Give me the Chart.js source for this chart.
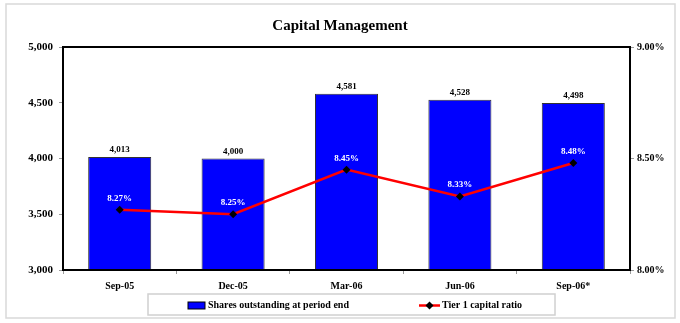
<!DOCTYPE html>
<html>
<head>
<meta charset="utf-8">
<script src="https://cdn.jsdelivr.net/npm/chart.js@4"></script>
<style>
  html, body { margin: 0; padding: 0; background: #fff; }
  #wrap { width: 680px; height: 323px; position: relative; }
</style>
</head>
<body>
<div id="wrap"><canvas id="myChart" width="680" height="323"></canvas></div>
<script>
// chart data
const categories = ["Sep-05", "Dec-05", "Mar-06", "Jun-06", "Sep-06*"];
const shares = [4013, 4000, 4581, 4528, 4498];
const tier1 = [8.27, 8.25, 8.45, 8.33, 8.48];
const leftTicks = [3000, 3500, 4000, 4500, 5000];
const rightTicks = [8.0, 8.5, 9.0];

const FONT = "'Liberation Serif', 'Times New Roman', serif";

// draws frame, title, value labels and the boxed legend
const extras = {
  id: "extras",
  beforeDraw(chart) {
    const c = chart.ctx;
    c.save();
    c.fillStyle = "#fff";
    c.fillRect(0, 0, chart.width, chart.height);
    c.strokeStyle = "#d9d9d9";
    c.lineWidth = 1.5;
    c.strokeRect(6, 4, 669, 314);
    c.restore();
  },
  afterDraw(chart) {
    const c = chart.ctx;
    const a = chart.chartArea;
    c.save();
    // plot frame
    c.strokeStyle = "#000";
    c.lineWidth = 2;
    c.strokeRect(a.left, a.top, a.right - a.left, a.bottom - a.top);

    // title
    c.fillStyle = "#000";
    c.font = "bold 15px " + FONT;
    c.textAlign = "center";
    c.textBaseline = "middle";
    c.fillText("Capital Management", 340, 26);

    // bar values
    c.font = "bold 9px " + FONT;
    c.textBaseline = "alphabetic";
    const bars = chart.getDatasetMeta(0).data;
    bars.forEach((b, i) => {
      c.fillText(shares[i].toLocaleString("en-US"), b.x, b.y - 5);
    });

    // ratio values
    c.fillStyle = "#fff";
    const pts = chart.getDatasetMeta(1).data;
    pts.forEach((p, i) => {
      c.fillText(tier1[i].toFixed(2) + "%", p.x, p.y - 9);
    });

    // legend box
    c.strokeStyle = "#d0d0d0";
    c.lineWidth = 1.5;
    c.strokeRect(148, 294, 407, 21);
    c.fillStyle = "#0000ff";
    c.fillRect(188, 302, 17, 7);
    c.strokeStyle = "#000";
    c.lineWidth = 1;
    c.strokeRect(188, 302, 17, 7);
    c.fillStyle = "#000";
    c.font = "bold 10px " + FONT;
    c.textAlign = "left";
    c.textBaseline = "middle";
    c.fillText("Shares outstanding at period end", 208, 305.5);
    c.strokeStyle = "#ff0000";
    c.lineWidth = 2.5;
    c.beginPath();
    c.moveTo(419, 305.5);
    c.lineTo(440, 305.5);
    c.stroke();
    c.fillStyle = "#000";
    c.beginPath();
    c.moveTo(429.5, 301.5);
    c.lineTo(433.5, 305.5);
    c.lineTo(429.5, 309.5);
    c.lineTo(425.5, 305.5);
    c.closePath();
    c.fill();
    c.fillText("Tier 1 capital ratio", 442, 305.5);
    c.restore();
  }
};

const ctx = document.getElementById("myChart").getContext("2d");
const myChart = new Chart(ctx, {
  type: "bar",
  data: {
    labels: categories,
    datasets: [
      {
        type: "bar",
        label: "Shares outstanding at period end",
        data: shares,
        backgroundColor: "#0000ff",
        borderColor: "#333",
        borderWidth: 1,
        barPercentage: 0.556,
        categoryPercentage: 1,
        yAxisID: "y",
        order: 2
      },
      {
        type: "line",
        label: "Tier 1 capital ratio",
        data: tier1,
        borderColor: "#ff0000",
        borderWidth: 2.5,
        pointStyle: "rectRot",
        pointRadius: 4,
        pointBackgroundColor: "#000",
        pointBorderColor: "#000",
        pointBorderWidth: 0,
        tension: 0,
        yAxisID: "y1",
        order: 1
      }
    ]
  },
  options: {
    responsive: false,
    animation: false,
    layout: { padding: { left: 8, right: 5, top: 47, bottom: 0 } },
    plugins: {
      legend: { display: false },
      title: { display: false },
      tooltip: { enabled: false }
    },
    scales: {
      x: {
        offset: true,
        grid: { offset: true, drawOnChartArea: false, tickLength: 4, color: "#999" },
        border: { display: false },
        ticks: { color: "#000", font: { family: FONT, size: 10, weight: "bold" }, padding: 6 },
        afterFit: s => { s.height = 53; }
      },
      y: {
        position: "left",
        min: 3000,
        max: 5000,
        afterBuildTicks: s => { s.ticks = leftTicks.map(v => ({ value: v })); },
        grid: { drawOnChartArea: false, tickLength: 4, color: "#999" },
        border: { display: false },
        ticks: {
          color: "#000",
          font: { family: FONT, size: 11, weight: "bold" },
          padding: 6,
          callback: v => v.toLocaleString("en-US")
        },
        afterFit: s => { s.width = 55; }
      },
      y1: {
        position: "right",
        min: 8.0,
        max: 9.0,
        afterBuildTicks: s => { s.ticks = rightTicks.map(v => ({ value: v })); },
        grid: { drawOnChartArea: false, tickLength: 4, color: "#999" },
        border: { display: false },
        ticks: {
          color: "#000",
          font: { family: FONT, size: 10, weight: "bold" },
          padding: 3,
          callback: v => v.toFixed(2) + "%"
        },
        afterFit: s => { s.width = 45; }
      }
    }
  },
  plugins: [extras]
});
</script>
</body>
</html>
